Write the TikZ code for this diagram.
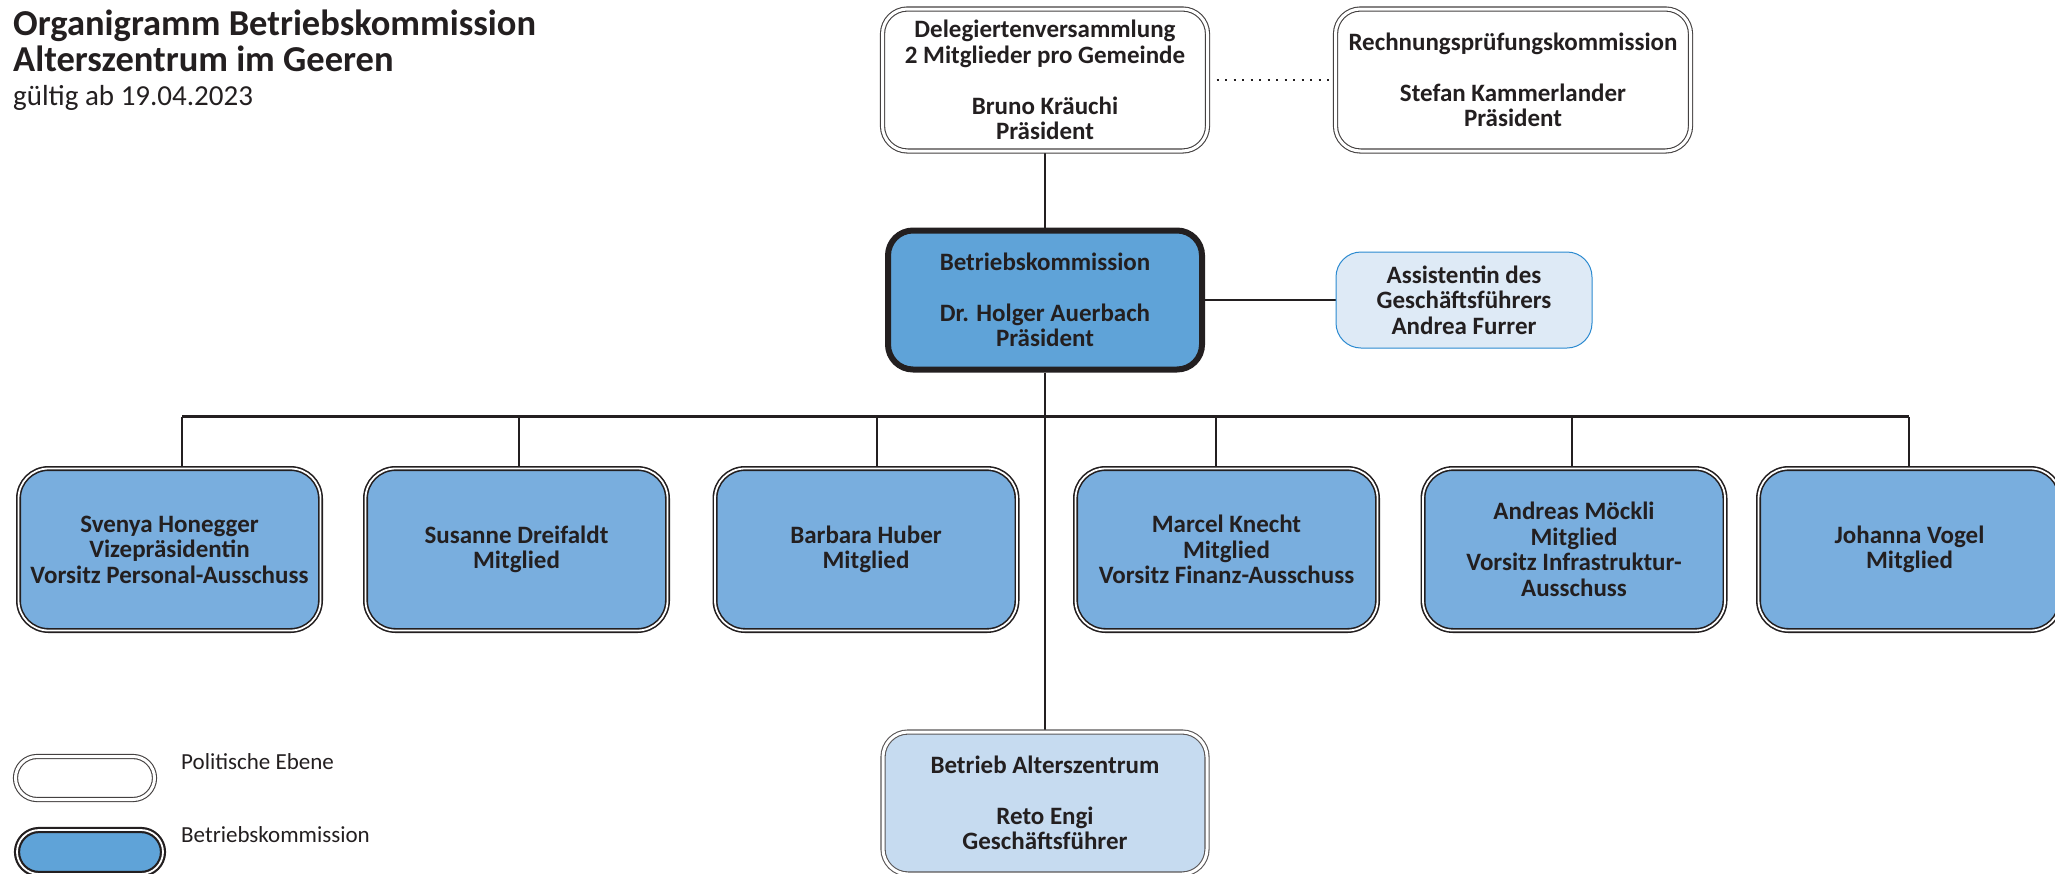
\documentclass[tikz,border=0pt]{standalone}
\usepackage{fontspec}
\setmainfont{Carlito}

\definecolor{inkdark}{HTML}{231F20}
\definecolor{bkblue}{HTML}{5FA3D8}
\definecolor{memberblue}{HTML}{79AEDE}
\definecolor{betriebblue}{HTML}{C6DBF0}
\definecolor{assfill}{HTML}{DEEAF6}
\definecolor{assline}{HTML}{2B8AD0}

\pgfdeclarelayer{background}
\pgfsetlayers{background,main}

\tikzset{
  boxtext/.style={text=inkdark, align=center, inner sep=0pt,
    font=\fontsize{25}{25.5}\selectfont\bfseries},
  polbox/.style={boxtext, draw=inkdark!85, fill=white, line width=1.1pt,
    double=white, double distance=3pt, rounded corners=25pt,
    minimum height=142pt},
  bkbox/.style={boxtext, draw=inkdark, fill=bkblue, line width=6pt,
    rounded corners=25pt, minimum width=314pt, minimum height=139pt},
  memberbox/.style={boxtext, draw=inkdark, fill=memberblue, line width=1.6pt,
    double=white, double distance=1.8pt, rounded corners=30pt,
    minimum width=302pt, minimum height=162pt},
  assbox/.style={boxtext, draw=assline, fill=assfill, line width=1pt,
    rounded corners=25pt, minimum width=256pt, minimum height=96pt},
  betriebbox/.style={polbox, draw=inkdark!75, fill=betriebblue,
    minimum width=324pt},
  link/.style={draw=inkdark, line width=2.2pt},
  titletext/.style={text=inkdark, inner sep=0pt, anchor=base west,
    font=\fontsize{36.5}{38}\selectfont\bfseries},
  legtext/.style={text=inkdark, inner sep=0pt, anchor=base west,
    font=\fontsize{23}{25}\selectfont},
}

\begin{document}
\begin{tikzpicture}[x=1pt, y=-1pt]

    % Fix page size
    \useasboundingbox (0, 0) rectangle (2055, 873);

    % Title
    \node[titletext] (title) at (13, 35.5) {Organigramm Betriebskommission};
    \node[titletext] (title2) at (13, 71) {Alterszentrum im Geeren};
    \node[titletext, font=\fontsize{29}{31}\selectfont] (valid) at (13, 105)
      {gültig ab 19.04.2023};

    % Political level
    \node[polbox, minimum width=325pt] (dv) at (1045, 80)
      {Delegiertenversammlung\\2 Mitglieder pro Gemeinde\\[25.5pt]Bruno Kräuchi\\Präsident};
    \node[polbox, minimum width=355pt] (rp) at (1513, 80)
      {Rechnungsprüfungskommission\\[25.5pt]Stefan Kammerlander\\Präsident};

    % Commission, assistant and operation
    \node[bkbox] (bk) at (1045, 300)
      {Betriebskommission\\[25.5pt]Dr. Holger Auerbach\\Präsident};
    \node[assbox] (as) at (1464, 300)
      {Assistentin des\\Geschäftsführers\\Andrea Furrer};
    \node[betriebbox] (ba) at (1045, 803)
      {Betrieb Alterszentrum\\[25.5pt]Reto Engi\\Geschäftsführer};

    % Members
    \foreach \n/\x/\txt in {
        m1/169.5/{Svenya Honegger\\Vizepräsidentin\\Vorsitz Personal-Ausschuss},
        m2/516.5/{Susanne Dreifaldt\\Mitglied},
        m3/866/{Barbara Huber\\Mitglied},
        m4/1226.5/{Marcel Knecht\\Mitglied\\Vorsitz Finanz-Ausschuss},
        m5/1574/{Andreas Möckli\\Mitglied\\Vorsitz Infrastruktur-\\Ausschuss},
        m6/1909.5/{Johanna Vogel\\Mitglied}}{
      \node[memberbox] (\n) at (\x, 549.5) {\txt};
    }

    % Legend
    \node[polbox, minimum width=139pt, minimum height=43pt,
      rounded corners=21.5pt] (lgpol) at (85, 778) {};
    \node[legtext] (lgpoltxt) at (181, 769) {Politische Ebene};
    \node[memberbox, fill=bkblue, line width=2.2pt, minimum width=146pt,
      minimum height=44pt, rounded corners=22pt] (lgbk) at (90, 852) {};
    \node[legtext] (lgbktxt) at (181, 842) {Betriebskommission};

    % Connectors
    \begin{pgfonlayer}{background}
      \coordinate (busl) at (182, 416.5);
      \coordinate (busr) at (1909, 416.5);
      \draw[link] (busl) -- (busr);
      \draw[link] (dv.south) -- (bk.north);
      \draw[link] (bk.south) -- (ba.north);
      \draw[link] (bk.east) -- (as.west);
      \draw[link, line width=2pt, dash pattern=on 2pt off 6.5pt]
        (dv.east) -- (rp.west);

      % Drops from bus to every member
      \foreach \n/\dx in {m1/12.5, m2/2.5, m3/11, m4/-10.5, m5/-2, m6/-0.5}{
        \draw[link] ([xshift=\dx pt]\n.north) -- ([xshift=\dx pt]\n.north |- busl);
      }
    \end{pgfonlayer}

\end{tikzpicture}
\end{document}
